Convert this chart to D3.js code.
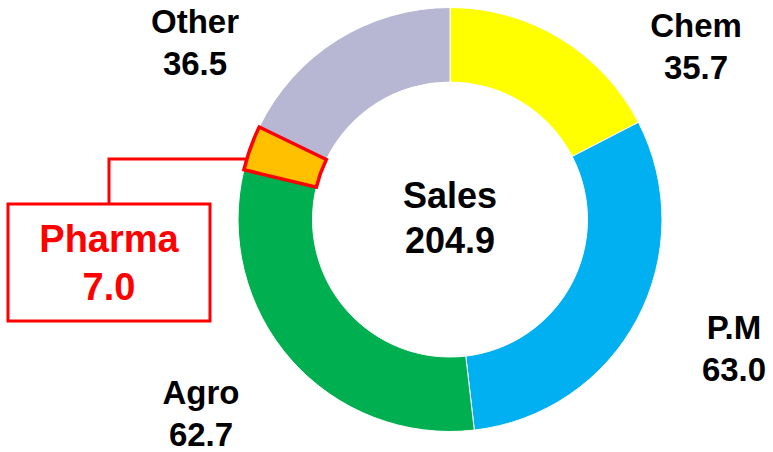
<!DOCTYPE html>
<html>
<head>
<meta charset="utf-8">
<script src="https://cdn.jsdelivr.net/npm/d3@7"></script>
<style>
  html, body { margin: 0; padding: 0; background: #fff; }
  svg { display: block; }
  text { font-family: "Liberation Sans", Arial, sans-serif; font-weight: bold; }
</style>
</head>
<body>
<svg id="chart" width="773" height="452"></svg>
<script>
const categories = ["Chem", "P.M", "Agro", "Pharma", "Other"];
const values = [35.7, 63.0, 62.7, 7.0, 36.5];
const colors = ["#FFFF00", "#00B0F0", "#00B050", "#FFC000", "#B7B7D3"];
const totalLabel = "Sales";
const totalValue = "204.9";

const W = 773, H = 452;
const cx = 450, cy = 219.5;
const outerR = 212, innerR = 137.5;

const svg = d3.select("#chart");
const g = svg.append("g").attr("transform", `translate(${cx},${cy})`);

const pie = d3.pie().sort(null).value(d => d.value);
const arc = d3.arc().innerRadius(innerR).outerRadius(outerR);
const data = pie(categories.map((c, i) => ({ name: c, value: values[i], color: colors[i] })));

g.selectAll("path.slice")
  .data(data)
  .join("path")
  .attr("class", "slice")
  .attr("d", arc)
  .attr("fill", d => d.data.color)
  .attr("stroke", "#fff")
  .attr("stroke-width", 1);

// highlighted Pharma slice
const ph = data.find(d => d.data.name === "Pharma");
g.append("path")
  .attr("d", arc(ph))
  .attr("fill", ph.data.color)
  .attr("stroke", "#FF0000")
  .attr("stroke-width", 3.5)
  .attr("stroke-linejoin", "miter");

// center label
const center = g.append("text").attr("text-anchor", "middle").attr("font-size", 36).attr("fill", "#000");
center.append("tspan").attr("x", 0).attr("y", -12).text(totalLabel);
center.append("tspan").attr("x", 0).attr("y", 33).text(totalValue);

// outside labels (positions relative to chart)
const labelPos = {
  "Chem":  [696, 37],
  "P.M":   [734, 339],
  "Agro":  [201, 404],
  "Other": [195, 33]
};
categories.forEach((c, i) => {
  if (!labelPos[c]) return;
  const [x, y] = labelPos[c];
  const t = svg.append("text").attr("text-anchor", "middle").attr("font-size", 33).attr("fill", "#000");
  t.append("tspan").attr("x", x).attr("y", y).text(c);
  t.append("tspan").attr("x", x).attr("y", y + 42).text(values[i].toFixed(1));
});

// Pharma callout
const boxX = 8, boxY = 204, boxW = 202, boxH = 117;
const lineY = 159;
const dy = cy - lineY;
const hitX = cx - Math.sqrt(outerR * outerR - dy * dy);
const midX = boxX + boxW / 2;
svg.append("path")
  .attr("d", `M${midX},${boxY} L${midX},${lineY} L${hitX},${lineY}`)
  .attr("fill", "none")
  .attr("stroke", "#FF0000")
  .attr("stroke-width", 3);
svg.append("rect")
  .attr("x", boxX).attr("y", boxY).attr("width", boxW).attr("height", boxH)
  .attr("fill", "#fff")
  .attr("stroke", "#FF0000")
  .attr("stroke-width", 3);
const pi = categories.indexOf("Pharma");
const pt = svg.append("text").attr("text-anchor", "middle").attr("font-size", 38).attr("fill", "#FF0000");
pt.append("tspan").attr("x", midX).attr("y", 252).text(categories[pi]);
pt.append("tspan").attr("x", midX).attr("y", 300).text(values[pi].toFixed(1));
</script>
</body>
</html>
